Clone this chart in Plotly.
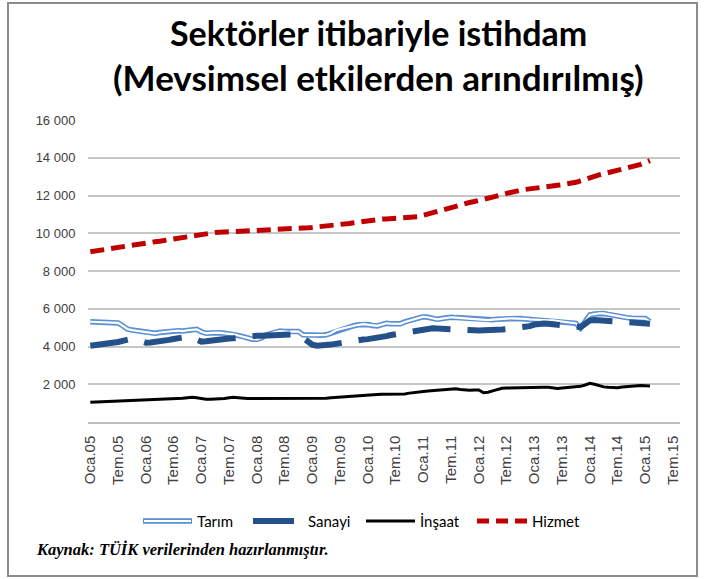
import plotly.graph_objects as go

# ---------------- data (thousand persons, monthly, Oca.05 .. Şub.15) ----------------
tarim = [
    5310, 5300, 5290, 5280, 5270, 5260, 5250, 5100, 4930, 4870, 4840, 4800,
    4760, 4720, 4700, 4740, 4780, 4800, 4820, 4840, 4820, 4860, 4880, 4910,
    4780, 4700, 4720, 4740, 4730, 4700, 4680, 4640, 4580, 4520, 4430, 4390,
    4380, 4450, 4610, 4700, 4760, 4820, 4790, 4780, 4800, 4790, 4620, 4600,
    4600, 4600, 4600, 4620, 4700, 4850, 4920, 4980, 5050, 5100, 5150, 5190,
    5160, 5110, 5090, 5160, 5230, 5210, 5190, 5200, 5300, 5380, 5440, 5520,
    5580, 5550, 5480, 5440, 5480, 5530, 5550, 5530, 5510, 5490, 5480, 5460,
    5440, 5420, 5400, 5420, 5450, 5470, 5480, 5490, 5490, 5480, 5460, 5440,
    5420, 5410, 5400, 5390, 5380, 5360, 5340, 5300, 5260, 5230, 4980, 5300,
    5670, 5720, 5760, 5750, 5700, 5640, 5590, 5560, 5530, 5500, 5490, 5490,
    5480, 5310,
]
sanayi = [
    4040, 4060, 4090, 4120, 4150, 4190, 4240, 4300, 4370, 4410, 4350, 4250,
    4200, 4210, 4230, 4270, 4310, 4350, 4400, 4450, 4510, 4520, 4450, 4350,
    4260, 4280, 4320, 4350, 4380, 4410, 4420, 4440, 4470, 4520, 4560, 4570,
    4570, 4570, 4580, 4600, 4620, 4650, 4670, 4690, 4700, 4650, 4450, 4250,
    4100, 4040, 4040, 4060, 4100, 4140, 4190, 4230, 4280, 4330, 4350, 4370,
    4390, 4410, 4450, 4500, 4550, 4610, 4650, 4690, 4720, 4750, 4800, 4870,
    4930, 4960, 4960, 4950, 4930, 4920, 4910, 4900, 4890, 4880, 4870, 4860,
    4850, 4850, 4840, 4860, 4880, 4900, 4920, 4940, 4960, 4980, 5000, 5080,
    5160, 5230, 5220, 5200, 5180, 5150, 5120, 5090, 5060, 5040, 5020, 5200,
    5380, 5400, 5400, 5380, 5360, 5340, 5320, 5300, 5280, 5260, 5240, 5230,
    5220, 5210,
]
insaat = [
    1040, 1050, 1060, 1070, 1080, 1090, 1100, 1110, 1120, 1130, 1130, 1140,
    1150, 1160, 1170, 1180, 1190, 1200, 1210, 1230, 1260, 1290, 1310, 1280,
    1230, 1200, 1200, 1210, 1220, 1240, 1280, 1310, 1290, 1250, 1240, 1240,
    1240, 1240, 1240, 1240, 1240, 1240, 1240, 1240, 1240, 1240, 1240, 1240,
    1240, 1240, 1250, 1260, 1280, 1300, 1320, 1340, 1360, 1380, 1400, 1430,
    1440, 1450, 1460, 1470, 1480, 1480, 1470, 1470, 1490, 1530, 1570, 1600,
    1620, 1640, 1660, 1690, 1720, 1750, 1770, 1760, 1720, 1690, 1680, 1690,
    1700, 1550, 1580, 1650, 1720, 1790, 1800, 1810, 1820, 1820, 1830, 1830,
    1840, 1840, 1840, 1840, 1820, 1780, 1800, 1820, 1840, 1860, 1890, 1960,
    2050, 2000, 1920, 1860, 1840, 1830, 1820, 1850, 1880, 1910, 1920, 1930,
    1920, 1910,
]
hizmet = [
    9020, 9060, 9110, 9150, 9190, 9230, 9280, 9330, 9370, 9400, 9430, 9460,
    9490, 9520, 9550, 9580, 9620, 9660, 9700, 9740, 9780, 9830, 9870, 9920,
    9970, 10000, 10020, 10040, 10050, 10060, 10070, 10080, 10090, 10090, 10100, 10110,
    10120, 10130, 10140, 10150, 10160, 10180, 10200, 10210, 10230, 10250, 10270, 10290,
    10310, 10330, 10350, 10380, 10400, 10430, 10460, 10490, 10520, 10560, 10600, 10640,
    10680, 10710, 10740, 10750, 10760, 10770, 10780, 10790, 10800, 10820, 10840, 10880,
    10950, 11020, 11090, 11170, 11250, 11330, 11410, 11470, 11520, 11580, 11630, 11680,
    11730, 11780, 11840, 11900, 11970, 12040, 12110, 12180, 12230, 12280, 12320, 12360,
    12380, 12400, 12430, 12460, 12500, 12540, 12570, 12600, 12640, 12700, 12780, 12870,
    12960, 13030, 13090, 13150, 13210, 13260, 13310, 13370, 13440, 13510, 13580, 13650,
    13750, 13850,
]

x_tick_labels = [
    "Oca.05", "Tem.05", "Oca.06", "Tem.06", "Oca.07", "Tem.07", "Oca.08", "Tem.08",
    "Oca.09", "Tem.09", "Oca.10", "Tem.10", "Oca.11", "Tem.11", "Oca.12", "Tem.12",
    "Oca.13", "Tem.13", "Oca.14", "Tem.14", "Oca.15", "Tem.15",
]
y_tick_values = [2000, 4000, 6000, 8000, 10000, 12000, 14000, 16000]
y_tick_labels = ["2 000", "4 000", "6 000", "8 000", "10 000", "12 000", "14 000", "16 000"]
series_names = ["Tarım", "Sanayi", "İnşaat", "Hizmet"]
title_lines = ["Sektörler itibariyle istihdam", "(Mevsimsel etkilerden arındırılmış)"]
source_text = "Kaynak: TÜİK verilerinden hazırlanmıştır."

months = list(range(len(hizmet)))        # month index, 0 = Oca.05
tick_positions = [6 * i for i in range(len(x_tick_labels))]

# ---------------- styles ----------------
C_TARIM = "#5b8fd3"
C_SANAYI = "#245189"
C_INSAAT = "#000000"
C_HIZMET = "#c00000"
SANS = "Lato, 'Open Sans', sans-serif"
ARIAL = "'Liberation Sans', Arial, sans-serif"

W, H = 704, 579
L, R, T, B = 88, 680, 120, 422          # plot area in pixels


def px(xp):
    return (xp - L) / (R - L)


def py(yp):
    return (B - yp) / (B - T)


fig = go.Figure()
fig.add_trace(go.Scatter(x=months, y=tarim, mode="lines", name=series_names[0],
                         line=dict(color=C_TARIM, width=5.5), showlegend=False))
fig.add_trace(go.Scatter(x=months, y=tarim, mode="lines", name=series_names[0],
                         line=dict(color="white", width=2.2), showlegend=False,
                         hoverinfo="skip"))
fig.add_trace(go.Scatter(x=months, y=sanayi, mode="lines", name=series_names[1],
                         line=dict(color=C_SANAYI, width=6, dash="38px,17px"),
                         showlegend=False))
fig.add_trace(go.Scatter(x=months, y=insaat, mode="lines", name=series_names[2],
                         line=dict(color=C_INSAAT, width=3), showlegend=False))
fig.add_trace(go.Scatter(x=months, y=hizmet, mode="lines", name=series_names[3],
                         line=dict(color=C_HIZMET, width=5, dash="14px,7px"),
                         showlegend=False))

shapes = []
annotations = []

# outer frame
shapes.append(dict(type="rect", xref="paper", yref="paper",
                   x0=px(8), x1=px(697), y0=py(576), y1=py(3),
                   line=dict(color="#8c8c8c", width=2), layer="below"))

# titles
annotations.append(dict(text=f"<b>{title_lines[0]}</b>", xref="paper", yref="paper",
                        x=px(378), y=py(33), xanchor="center", yanchor="middle",
                        showarrow=False, font=dict(family=SANS, size=34, color="#000")))
annotations.append(dict(text=f"<b>{title_lines[1]}</b>", xref="paper", yref="paper",
                        x=px(378), y=py(77), xanchor="center", yanchor="middle",
                        showarrow=False, font=dict(family=SANS, size=35, color="#000")))

# legend (drawn manually to reproduce the compound line of Tarım)
ly = py(521)
leg = [
    (143, 192, 195, series_names[0]),
    (253, 294, 306, series_names[1]),
    (366, 415, 418, series_names[2]),
    (477, 527, 530, series_names[3]),
]
shapes.append(dict(type="line", xref="paper", yref="paper", x0=px(leg[0][0]), x1=px(leg[0][1]),
                   y0=ly, y1=ly, line=dict(color=C_TARIM, width=5.5)))
shapes.append(dict(type="line", xref="paper", yref="paper", x0=px(leg[0][0] + 1), x1=px(leg[0][1] - 1),
                   y0=ly, y1=ly, line=dict(color="white", width=2.2)))
shapes.append(dict(type="line", xref="paper", yref="paper", x0=px(leg[1][0]), x1=px(leg[1][1]),
                   y0=ly, y1=ly, line=dict(color=C_SANAYI, width=6)))
shapes.append(dict(type="line", xref="paper", yref="paper", x0=px(leg[2][0]), x1=px(leg[2][1]),
                   y0=ly, y1=ly, line=dict(color=C_INSAAT, width=3)))
shapes.append(dict(type="line", xref="paper", yref="paper", x0=px(leg[3][0]), x1=px(leg[3][1]),
                   y0=ly, y1=ly, line=dict(color=C_HIZMET, width=5, dash="12px,7px")))
for _, _, tx, name in leg:
    annotations.append(dict(text=name, xref="paper", yref="paper", x=px(tx), y=ly,
                            xanchor="left", yanchor="middle", showarrow=False,
                            font=dict(family=SANS, size=15, color="#000")))

# source note
annotations.append(dict(text=source_text, xref="paper", yref="paper", x=px(34), y=py(549),
                        xanchor="left", yanchor="middle", showarrow=False,
                        font=dict(family="'Liberation Serif', 'Times New Roman', serif",
                                  size=16.5, color="#000", weight="bold", style="italic")))

fig.update_layout(
    width=W, height=H,
    margin=dict(l=L, r=W - R, t=T, b=H - B, pad=0),
    paper_bgcolor="white", plot_bgcolor="white",
    showlegend=False,
    shapes=shapes, annotations=annotations,
    xaxis=dict(range=[-0.5, 127.5], tickmode="array", tickvals=tick_positions,
               ticktext=x_tick_labels, tickangle=-90, showgrid=False, zeroline=False,
               showline=True, linecolor="#bfbfbf", linewidth=1.5,
               ticks="outside", ticklen=6, tickcolor="rgba(0,0,0,0)",
               tickfont=dict(family=ARIAL, size=15, color="#404040")),
    yaxis=dict(range=[0, 16000], tickmode="array", tickvals=y_tick_values,
               ticktext=y_tick_labels, showgrid=True, gridcolor="#c6c6c6", gridwidth=1.5,
               zeroline=False, showline=False,
               ticks="outside", ticklen=9, tickcolor="rgba(0,0,0,0)",
               tickfont=dict(family=ARIAL, size=13, color="#404040")),
)

fig.write_html("out.html", config={"displayModeBar": False},
               post_script="document.body.style.margin='0px';document.body.style.overflow='hidden';")
